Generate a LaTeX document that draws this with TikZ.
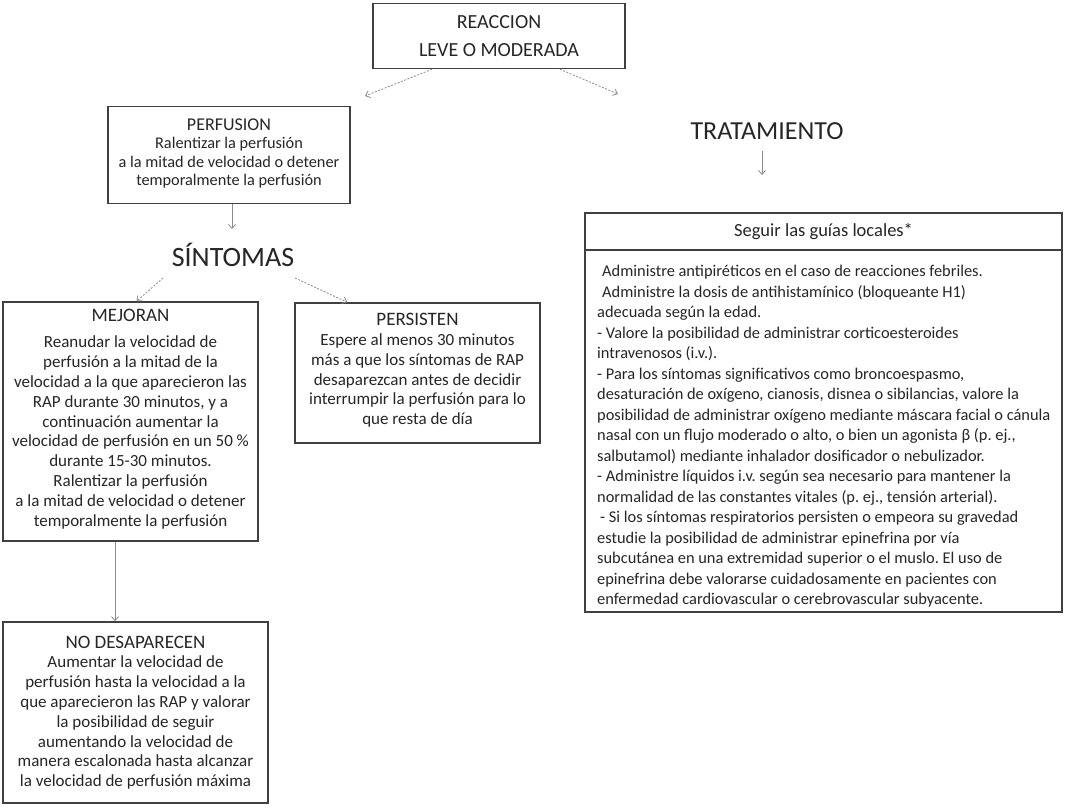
\documentclass[tikz,border=0pt]{standalone}
\usepackage{fontspec}
\setmainfont{Carlito}
\usetikzlibrary{arrows.meta,calc}
\frenchspacing
\begin{document}
\begin{tikzpicture}[x=1pt,y=-1pt,
  box/.style={draw=black!75, line width=1.6pt, align=center, inner sep=0pt, text=black!85},
  conn/.style={draw=black!45, line width=0.8pt, -{Straight Barb[length=4pt,width=7pt]}},
  dconn/.style={conn, dash pattern=on 2pt off 1.5pt},
  bodyf/.style={font=\fontsize{17}{19.8}\selectfont},
  big/.style={text=black!85, inner sep=1pt},
]
\useasboundingbox[fill=white] (0,0) rectangle (1065,809);

% top box
\node[box, minimum width=252pt, minimum height=65pt, font=\fontsize{20}{28}\selectfont] (reac) at (499,36) {REACCION\\LEVE O MODERADA};
\coordinate (c1) at (365,96);
\coordinate (c2) at (618,94);
\draw[dconn] ([xshift=-67pt]reac.south) -- (c1);
\draw[dconn] ([xshift=61pt]reac.south) -- (c2);

% perfusion
\node[box, minimum width=242pt, minimum height=97pt, font=\fontsize{16.3}{18.5}\selectfont] (perf) at (229,155)
 {{\fontsize{18}{20}\selectfont PERFUSION}\\Ralentizar la perfusión\\a la mitad de velocidad o detener\\temporalmente la perfusión\rule[-6pt]{0pt}{0pt}};

% sintomas
\node[big, font=\fontsize{28}{32}\selectfont] (sint) at (233,255) {SÍNTOMAS};
\coordinate (p1) at (232,229);
\draw[conn] (perf.south -| p1) -- (p1);

% mejoran
\node[box, bodyf, minimum width=255pt, minimum height=239pt] (mej) at (130.5,421.5)
 {{\fontsize{19}{22}\selectfont MEJORAN}\\[7pt]Reanudar la velocidad de\\perfusión a la mitad de la\\velocidad a la que aparecieron las\\RAP durante 30 minutos, y a\\continuación aumentar la\\velocidad de perfusión en un 50 \%\\durante 15-30 minutos.\\Ralentizar la perfusión\\a la mitad de velocidad o detener\\temporalmente la perfusión\rule[-8pt]{0pt}{0pt}};

% persisten
\node[box, bodyf, minimum width=245pt, minimum height=140pt] (pers) at (417.5,373)
 {{\fontsize{19}{22}\selectfont PERSISTEN}\\Espere al menos 30 minutos\\más a que los síntomas de RAP\\desaparezcan antes de decidir\\interrumpir la perfusión para lo\\que resta de día\rule[-8pt]{0pt}{0pt}};

\coordinate (s1) at (163,278);
\coordinate (s2) at (295,278);
\draw[dconn] (s1) -- ([xshift=6pt]mej.north);
\draw[dconn] (s2) -- ([xshift=53pt]pers.north west);

% no desaparecen
\node[box, bodyf, minimum width=265pt, minimum height=181pt] (nod) at (135.5,712.5)
 {{\fontsize{19}{22}\selectfont NO DESAPARECEN}\\Aumentar la velocidad de\\perfusión hasta la velocidad a la\\que aparecieron las RAP y valorar\\la posibilidad de seguir\\aumentando la velocidad de\\manera escalonada hasta alcanzar\\la velocidad de perfusión máxima};
\draw[conn] ([xshift=-15.5pt]mej.south) -- ([xshift=-15.5pt]mej.south |- nod.north);

% tratamiento
\node[big, font=\fontsize{26}{30}\selectfont] (trat) at (767,131) {TRATAMIENTO};
\coordinate (t1) at (762,175);
\coordinate (t0) at (762,151);
\draw[conn] (t0) -- (t1);

% right box
\node[box, minimum width=477pt, minimum height=37pt, font=\fontsize{18.5}{21}\selectfont] (head) at (823.5,231.5) {Seguir las guías locales*};
\node[box, minimum width=477pt, minimum height=362pt] (guia) at (823.5,431) {};
\node[anchor=north west, inner sep=0pt, align=left, text=black!85,
      font=\fontsize{16.4}{20.5}\selectfont] (guiat) at (597,265)
 {\hspace*{5pt}Administre antipiréticos en el caso de reacciones febriles.\\
  \hspace*{5pt}Administre la dosis de antihistamínico (bloqueante H1)\\
  adecuada según la edad.\\
  - Valore la posibilidad de administrar corticoesteroides\\
  intravenosos (i.v.).\\
  - Para los síntomas significativos como broncoespasmo,\\
  desaturación de oxígeno, cianosis, disnea o sibilancias, valore la\\
  posibilidad de administrar oxígeno mediante máscara facial o cánula\\
  nasal con un flujo moderado o alto, o bien un agonista β (p. ej.,\\
  salbutamol) mediante inhalador dosificador o nebulizador.\\
  - Administre líquidos i.v. según sea necesario para mantener la\\
  normalidad de las constantes vitales (p. ej., tensión arterial).\\
  \hspace*{3pt}- Si los síntomas respiratorios persisten o empeora su gravedad\\
  estudie la posibilidad de administrar epinefrina por vía\\
  subcutánea en una extremidad superior o el muslo. El uso de\\
  epinefrina debe valorarse cuidadosamente en pacientes con\\
  enfermedad cardiovascular o cerebrovascular subyacente.};
\end{tikzpicture}
\end{document}
